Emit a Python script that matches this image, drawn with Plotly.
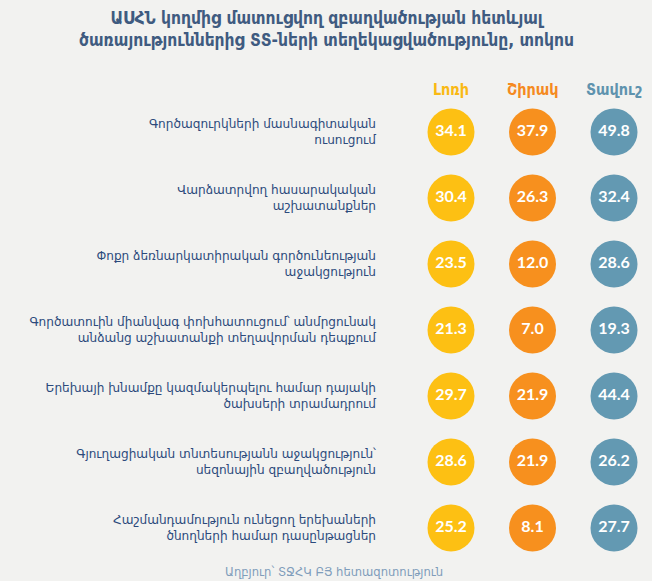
import plotly.graph_objects as go

# services (rows, top to bottom)
services = [
    "Գործազուրկների մասնագիտական<br>ուսուցում",
    "Վարձատրվող հասարակական<br>աշխատանքներ",
    "Փոքր ձեռնարկատիրական գործունեության<br>աջակցություն",
    "Գործատուին միանվագ փոխհատուցում՝ անմրցունակ<br>անձանց աշխատանքի տեղավորման դեպքում",
    "Երեխայի խնամքը կազմակերպելու համար դայակի<br>ծախսերի տրամադրում",
    "Գյուղացիական տնտեսությանն աջակցություն՝<br>սեզոնային զբաղվածություն",
    "Հաշմանդամություն ունեցող երեխաների<br>ծնողների համար դասընթացներ",
]
regions = ["Լոռի", "Շիրակ", "Տավուշ"]
lori = [34.1, 30.4, 23.5, 21.3, 29.7, 28.6, 25.2]
shirak = [37.9, 26.3, 12.0, 7.0, 21.9, 21.9, 8.1]
tavush = [49.8, 32.4, 28.6, 19.3, 44.4, 26.2, 27.7]

colors = ["#FDC013", "#F7901E", "#6399B2"]
head_colors = ["#F9B914", "#F58A1F", "#5F93AE"]

W, H = 652, 581
L, R, T, B = 380, 7, 100, 21


def py(px):
    # pixel row -> paper y
    return 1 - (px - T) / (H - T - B)


def px_x(px):
    # pixel column -> paper x
    return (px - L) / (W - L - R)


fig = go.Figure()
rows = list(range(len(services)))
for i, vals in enumerate([lori, shirak, tavush]):
    fig.add_trace(go.Scatter(
        x=[i] * len(vals), y=rows,
        mode="markers+text",
        marker=dict(size=47, color=colors[i], line=dict(width=0)),
        text=[f"{v:.1f}" for v in vals],
        textposition="middle center",
        textfont=dict(family="Lato", size=16, color="white", weight="bold"),
        hoverinfo="skip", showlegend=False,
    ))

for i, name in enumerate(regions):
    fig.add_annotation(x=i, y=py(89), xref="x", yref="paper", yanchor="middle",
                       text=f"<b>{name}</b>", showarrow=False,
                       font=dict(family="DejaVu Sans Condensed", size=16, color=head_colors[i]))

# title
fig.add_annotation(
    x=px_x(W / 2), y=py(29), xref="paper", yref="paper", xanchor="center", yanchor="middle",
    text="<b>ԱՍՀՆ կողմից մատուցվող զբաղվածության հետևյալ<br>ծառայություններից ՏՏ-ների տեղեկացվածությունը, տոկոս</b>",
    showarrow=False,
    font=dict(family="DejaVu Sans Condensed", size=17.3, color="#3F5B80"),
)

# source
fig.add_annotation(x=px_x(223), y=py(572), xref="paper", yref="paper",
                   text="Աղբյուր՝ ՏՋՀԿ ԲՅ հետազոտություն", showarrow=False,
                   xanchor="left", yanchor="middle",
                   font=dict(family="DejaVu Sans", size=11.6, color="#7F9DBB"))

fig.update_layout(
    width=W, height=H,
    margin=dict(l=L, r=R, t=T, b=B),
    paper_bgcolor="#F2F2F0", plot_bgcolor="#F2F2F0",
    xaxis=dict(range=[-0.871, 2.38], visible=False, fixedrange=True),
    yaxis=dict(range=[6.485, -0.485], tickvals=rows, ticktext=services,
               showgrid=False, zeroline=False, ticks="", ticklabelstandoff=3,
               fixedrange=True,
               tickfont=dict(family="DejaVu Sans", size=12.1, color="#2C4A7C")),
)

fig.write_html("out.html", config={"displayModeBar": False},
               post_script="document.body.style.margin='0';document.body.style.overflow='hidden';")
